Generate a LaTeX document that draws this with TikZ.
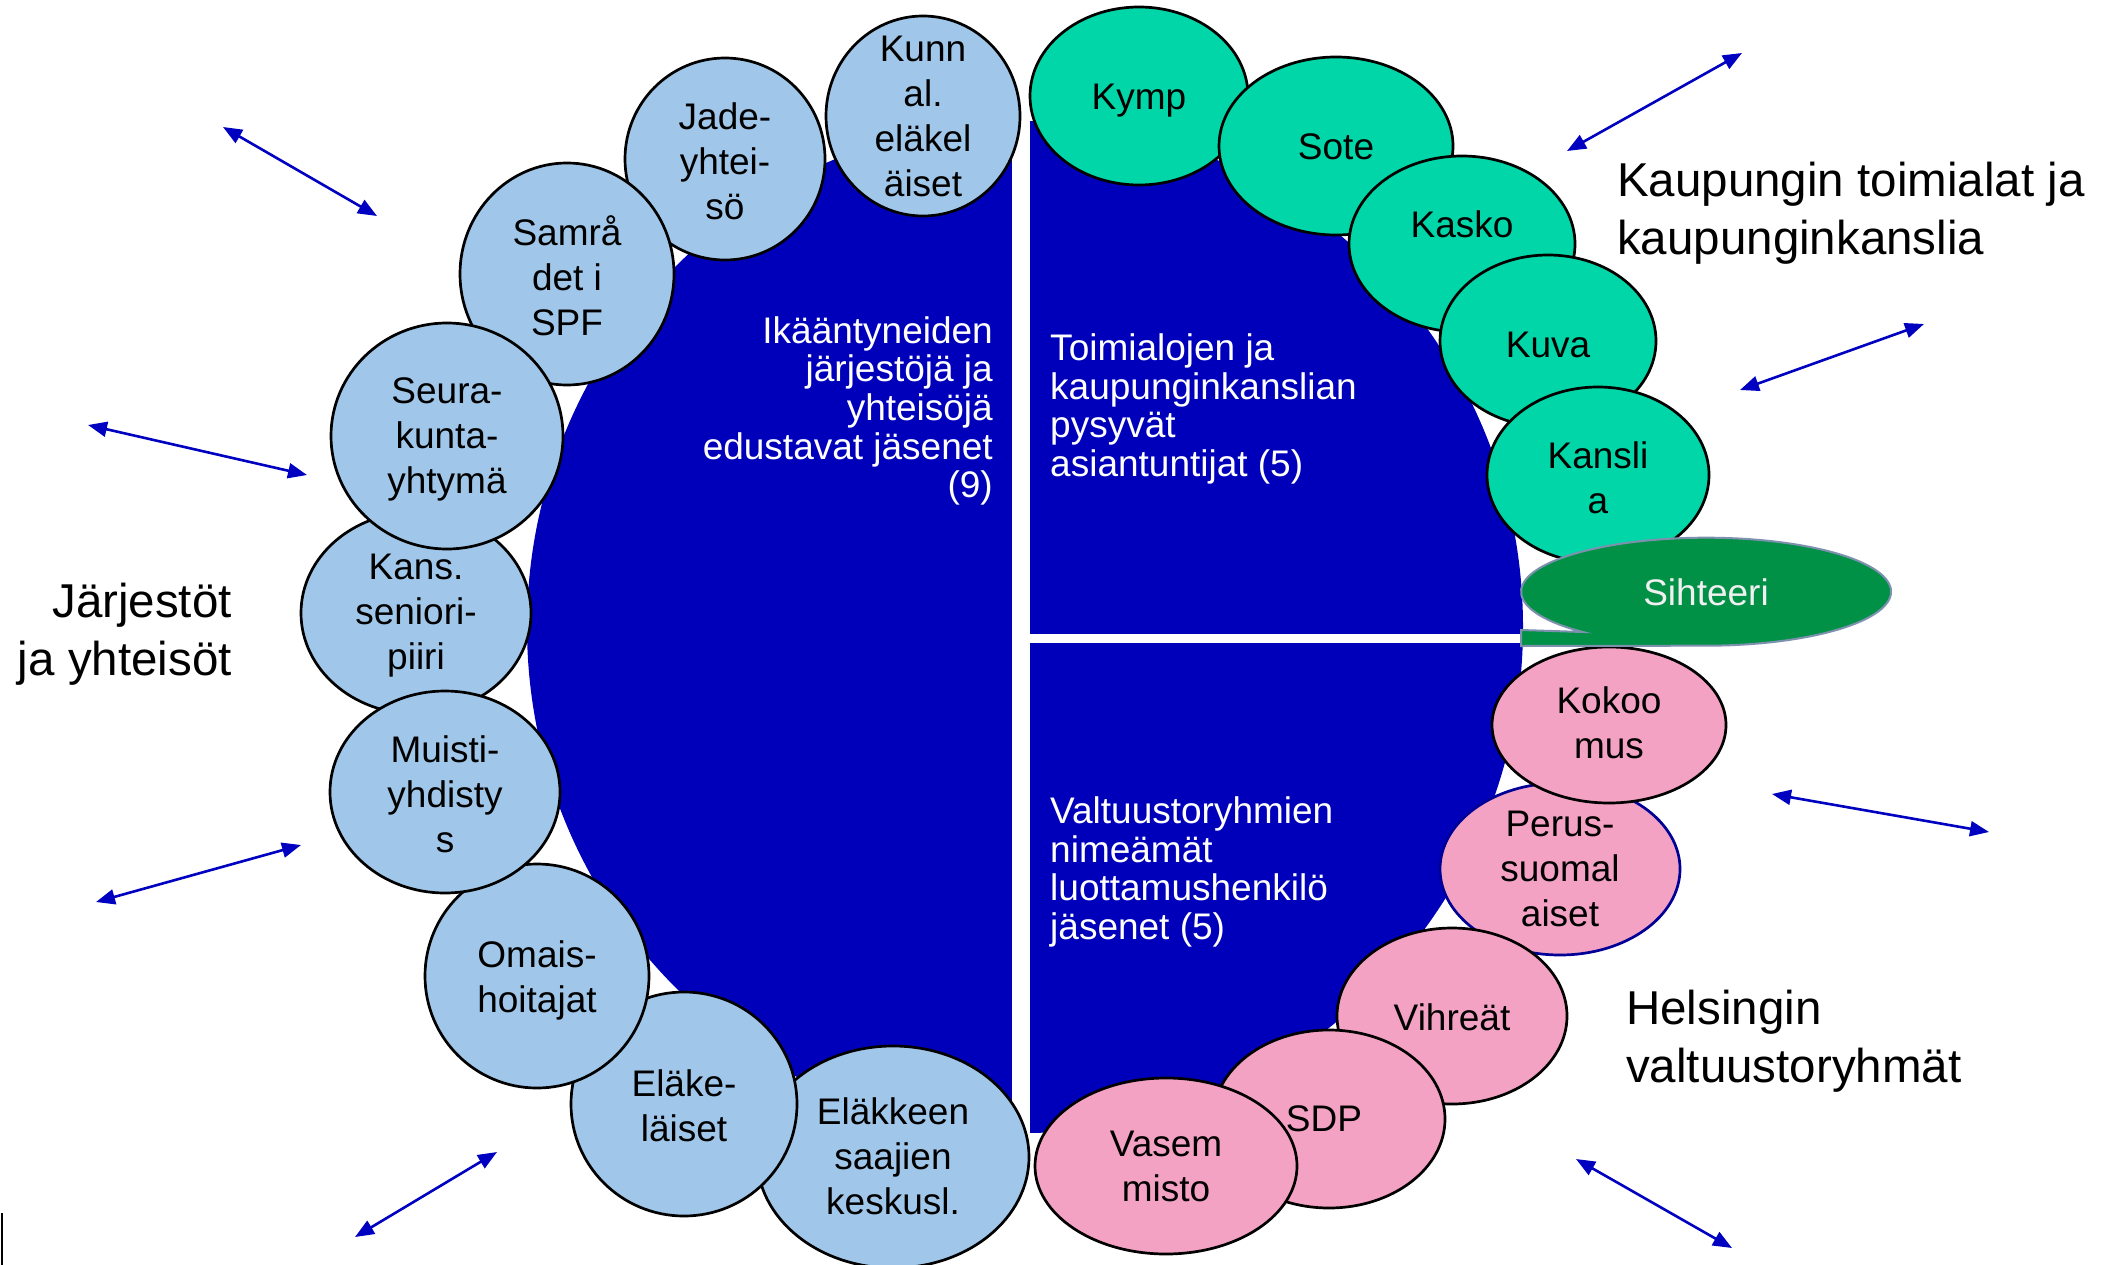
\documentclass[tikz,border=0pt]{standalone}
\usepackage{fontspec}
\setmainfont{Liberation Sans}
\usetikzlibrary{shapes.geometric,arrows.meta}
\definecolor{bigblue}{RGB}{0,0,187}
\definecolor{lblue}{RGB}{160,199,233}
\definecolor{tgreen}{RGB}{0,214,168}
\definecolor{pinkc}{RGB}{244,162,196}
\definecolor{secgreen}{RGB}{0,145,70}
\definecolor{secedge}{RGB}{125,145,175}
\definecolor{arrblue}{RGB}{0,0,192}
\definecolor{persedge}{RGB}{0,0,150}
\begin{document}
\begin{tikzpicture}[x=1pt,y=-1pt,
  blobnode/.style={ellipse, draw=black, line width=2.7pt, inner sep=0pt},
  sz/.style 2 args={minimum width=#1, minimum height=#2},
  lbc/.style={blobnode, fill=lblue},
  grc/.style={blobnode, fill=tgreen},
  pkc/.style={blobnode, fill=pinkc},
  lbl/.style={align=center, font=\fontsize{37}{45}\selectfont, inner sep=0pt},
  wtxt/.style={text=white, font=\fontsize{37}{38.7}\selectfont, inner sep=0pt},
  otxt/.style={font=\fontsize{47.5}{58.5}\selectfont, inner sep=0pt},
  arr/.style={draw=arrblue, line width=2.6pt,
    {Triangle[length=19pt,width=15pt]}-{Triangle[length=19pt,width=15pt]}}
]
\useasboundingbox (0,0) rectangle (2116,1265);
\fill[white] (0,0) rectangle (2116,1265);

% big blue disc with white dividers
\fill[bigblue] (1025,627) ellipse [x radius=498, y radius=506];
\fill[white] (1012,100) rectangle (1030,1150);
\fill[white] (1012,634) rectangle (1540,643);

% light blue circles (bottom to top)
\node[lbc, sz={272}{222}] (elakkeen) at (893,1157) {};
\node[lbc, sz={226}{224}] (elake) at (684,1104) {};
\node[lbc, sz={224}{224}] (omais) at (537,976) {};
\node[lbc, sz={230}{202}] (kans) at (416,613) {};
\node[lbc, sz={230}{202}] (muisti) at (445,792) {};
\node[lbc, sz={200}{202}] (jade) at (725,159) {};
\node[lbc, sz={214}{222}] (samrad) at (567,274) {};
\node[lbc, sz={232}{226}] (seura) at (447,436) {};
\node[lbc, sz={194}{200}] (kunnal) at (923,116) {};

% green circles
\node[grc, sz={218}{178}] (kymp) at (1139,96) {};
\node[grc, sz={234}{178}] (sote) at (1336,146) {};
\node[grc, sz={226}{176}] (kasko) at (1462,244) {};
\node[grc, sz={216}{172}] (kuva) at (1548,341) {};
\node[grc, sz={222}{176}] (kanslia) at (1598,475) {};

% pink circles
\node[pkc, draw=persedge, sz={240}{172}] (perus) at (1560,869) {};
\node[pkc, sz={234}{156}] (kokoomus) at (1609,725) {};
\node[pkc, sz={230}{176}] (vihreat) at (1452,1016) {};
\node[pkc, sz={232}{178}] (sdp) at (1329,1119) {};
\node[pkc, sz={262}{176}] (vasem) at (1166,1166) {};

% secretary callout
\filldraw[fill=secgreen, draw=secedge, line width=2pt]
  (1521,630) -- (1583,632)
  arc[start angle=131.7, end angle=450, x radius=185, y radius=54]
  -- (1521,646) -- cycle;
\node[lbl, text={rgb,255:red,240;green,240;blue,240}] (siht) at (1706,592) {Sihteeri};

% circle labels
\node[lbl] (t-kunnal) at (923,116) {Kunn\\al.\\eläkel\\äiset};
\node[lbl] (t-jade) at (725,161) {Jade-\\yhtei-\\sö};
\node[lbl] (t-samrad) at (567,276) {Samrå\\det i\\SPF};
\node[lbl] (t-seura) at (447,439) {Seura-\\kunta-\\yhtymä};
\node[lbl] (t-kans) at (416,616) {Kans.\\seniori-\\piiri};
\node[lbl] (t-muisti) at (445,794) {Muisti-\\yhdisty\\s};
\node[lbl] (t-omais) at (537,980) {Omais-\\hoitajat};
\node[lbl] (t-elake) at (684,1106) {Eläke-\\läiset};
\node[lbl] (t-elakkeen) at (893,1156) {Eläkkeen\\saajien\\keskusl.};
\node[lbl] (t-kymp) at (1139,101) {Kymp};
\node[lbl] (t-sote) at (1336,147) {Sote};
\node[lbl] (t-kasko) at (1462,224) {Kasko};
\node[lbl] (t-kuva) at (1548,345) {Kuva};
\node[lbl] (t-kanslia) at (1598,478) {Kansli\\a};
\node[lbl] (t-kokoomus) at (1609,723) {Kokoo\\mus};
\node[lbl] (t-perus) at (1560,869) {Perus-\\suomal\\aiset};
\node[lbl] (t-vihreat) at (1452,1017) {Vihreät};
\node[lbl] (t-sdp) at (1324,1119) {SDP};
\node[lbl] (t-vasem) at (1166,1166) {Vasem\\misto};

% white texts in the disc
\node[wtxt, align=right, anchor=east] (ikaant) at (993,411)
  {Ikääntyneiden\\järjestöjä ja\\yhteisöjä\\edustavat jäsenet\\(9)};
\node[wtxt, align=left, anchor=west] (toimial) at (1050,409)
  {Toimialojen ja\\kaupunginkanslian\\pysyvät\\asiantuntijat (5)};
\node[wtxt, align=left, anchor=west] (valtuusto) at (1050,872)
  {Valtuustoryhmien\\nimeämät\\luottamushenkilö\\jäsenet (5)};

% outside group labels
\node[otxt, align=left, anchor=west] (kaupunki) at (1617,213)
  {Kaupungin toimialat ja\\kaupunginkanslia};
\node[otxt, align=right, anchor=east] (jarjestot) at (232,634)
  {Järjestöt\\ja yhteisöt};
\node[otxt, align=left, anchor=west] (helsinki) at (1626,1041)
  {Helsingin\\valtuustoryhmät};

% double arrows
\coordinate (a1s) at (223,127);  \coordinate (a1e) at (377,216);
\coordinate (a2s) at (88,425);   \coordinate (a2e) at (307,475);
\coordinate (a3s) at (96,902);   \coordinate (a3e) at (301,845);
\coordinate (a4s) at (355,1237); \coordinate (a4e) at (497,1152);
\coordinate (a5s) at (1567,151); \coordinate (a5e) at (1742,53);
\coordinate (a6s) at (1740,390); \coordinate (a6e) at (1924,324);
\coordinate (a7s) at (1772,794); \coordinate (a7e) at (1989,832);
\coordinate (a8s) at (1576,1159);\coordinate (a8e) at (1732,1248);
\foreach \i in {1,...,8} \draw[arr] (a\i s) -- (a\i e);

% stray mark bottom left
\coordinate (m1) at (1.5,1213); \coordinate (m2) at (1.5,1265);
\draw[line width=2pt] (m1) -- (m2);
\end{tikzpicture}
\end{document}
